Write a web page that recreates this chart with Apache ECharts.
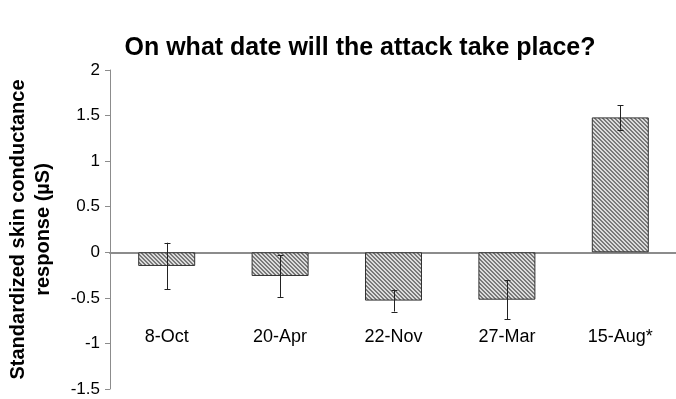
<!DOCTYPE html>
<html>
<head>
<meta charset="utf-8">
<script src="https://cdn.jsdelivr.net/npm/echarts@6/dist/echarts.min.js"></script>
<style>
html,body{margin:0;padding:0;background:#fff;}
#chart{width:676px;height:399px;}
</style>
</head>
<body>
<div id="chart"></div>
<script>
const categories = ['8-Oct', '20-Apr', '22-Nov', '27-Mar', '15-Aug*'];
const means = [-0.15, -0.26, -0.53, -0.52, 1.48];
const errors = [0.255, 0.23, 0.12, 0.215, 0.135];
const yTicks = [-1.5, -1, -0.5, 0, 0.5, 1, 1.5, 2];

const FONT = '"Liberation Sans", Arial, sans-serif';

// hatch pattern
const pc = document.createElement('canvas');
pc.width = 4; pc.height = 4;
const pctx = pc.getContext('2d');
pctx.fillStyle = '#dcdcdc';
pctx.fillRect(0, 0, 4, 4);
pctx.fillStyle = '#7a7a7a';
for (let i = 0; i < 4; i++) {
  pctx.fillRect(i, i, 1, 1);
  pctx.fillRect((i + 1) % 4, i, 1, 1);
}

const chart = echarts.init(document.getElementById('chart'), null, {renderer: 'canvas'});
const errData = means.map((m, i) => [i, m - errors[i], m + errors[i]]);

chart.setOption({
  animation: false,
  backgroundColor: '#fff',
  grid: {left: 110, top: 70, width: 567, bottom: 10, containLabel: false, outerBoundsMode: 'none'},
  graphic: [{
    type: 'text', x: 360, y: 48,
    style: {text: 'On what date will the attack take place?', font: 'bold 25px ' + FONT, fill: '#000',
      textAlign: 'center', textVerticalAlign: 'middle'}
  }],
  xAxis: [{
    type: 'category',
    data: categories,
    axisLine: {onZero: true, lineStyle: {color: '#8c8c8c', width: 2}},
    axisTick: {show: false},
    axisLabel: {show: false},
    splitLine: {show: false}
  }, {
    type: 'category',
    data: categories,
    position: 'bottom',
    axisLine: {show: false, onZero: false},
    axisTick: {show: false},
    axisLabel: {margin: -61, fontSize: 18, fontFamily: FONT, color: '#000', verticalAlign: 'top'},
    splitLine: {show: false}
  }],
  yAxis: {
    type: 'value',
    min: -1.5, max: 2, interval: 0.5,
    axisLine: {show: true, lineStyle: {color: '#8c8c8c', width: 1}},
    axisTick: {show: true, inside: false, length: 5, lineStyle: {color: '#8c8c8c'}},
    axisLabel: {margin: 10, fontSize: 17, fontFamily: FONT, color: '#000',
      formatter: v => { const t = yTicks.find(x => Math.abs(x - v) < 1e-9); return t === undefined ? '' : String(t); }},
    splitLine: {show: false},
    name: 'Standardized skin conductance\nresponse (µS)',
    nameLocation: 'middle',
    nameGap: 54,
    nameRotate: 90,
    nameTextStyle: {fontSize: 20, fontWeight: 'bold', fontFamily: FONT, color: '#000', lineHeight: 25}
  },
  series: [{
    type: 'bar',
    data: means,
    barWidth: 57,
    itemStyle: {color: {image: pc, repeat: 'repeat'}, borderColor: '#333', borderWidth: 1},
    z: 2
  }, {
    type: 'custom',
    data: errData,
    z: 5,
    renderItem: function (params, api) {
      const x = api.value(0);
      const lo = api.coord([x, api.value(1)]);
      const hi = api.coord([x, api.value(2)]);
      const cx = Math.round(lo[0]) + 0.5;
      const w = 3;
      const st = {stroke: '#222', lineWidth: 1};
      return {type: 'group', children: [
        {type: 'line', shape: {x1: cx, y1: lo[1], x2: cx, y2: hi[1]}, style: st},
        {type: 'line', shape: {x1: cx - w, y1: Math.round(lo[1]) + 0.5, x2: cx + w, y2: Math.round(lo[1]) + 0.5}, style: st},
        {type: 'line', shape: {x1: cx - w, y1: Math.round(hi[1]) + 0.5, x2: cx + w, y2: Math.round(hi[1]) + 0.5}, style: st}
      ]};
    }
  }]
});
</script>
</body>
</html>
